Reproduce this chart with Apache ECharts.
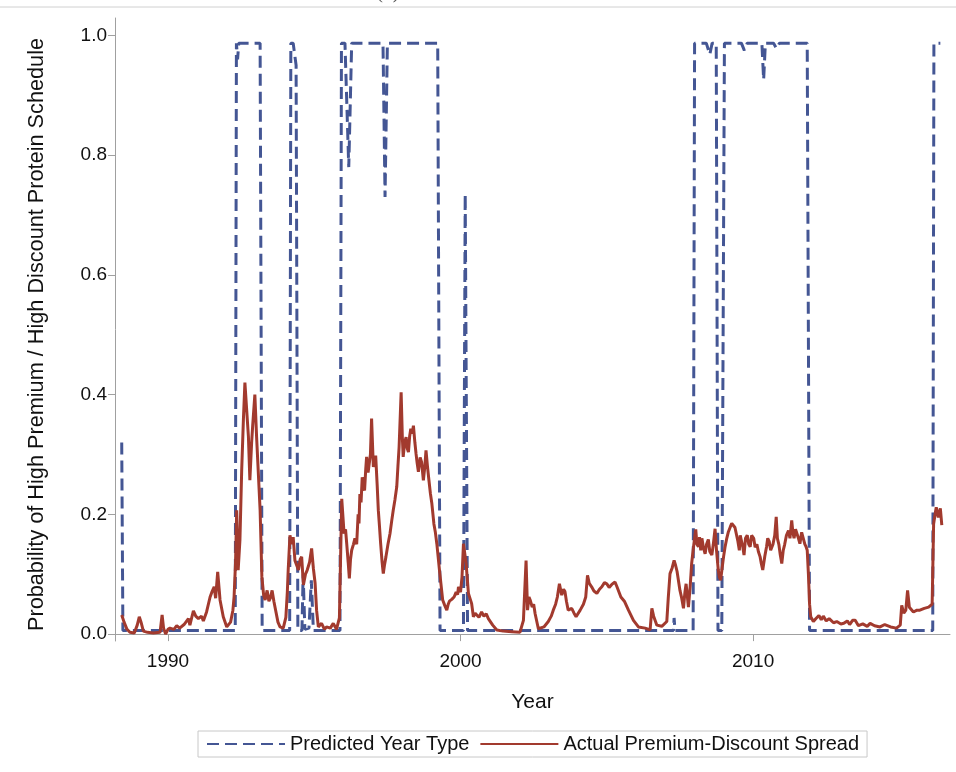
<!DOCTYPE html>
<html>
<head>
<meta charset="utf-8">
<script src="https://cdn.jsdelivr.net/npm/echarts@6/dist/echarts.min.js"></script>
<style>
html,body{margin:0;padding:0;background:#fff;}
#chart{width:956px;height:772px;}
</style>
</head>
<body>
<div id="chart"></div>
<script>
// Tick labels
var xTicks = [1990, 2000, 2010];
var yTicks = [0, 0.2, 0.4, 0.6, 0.8, 1.0];

// Actual Premium-Discount Spread
var spreadYears = [
1988.42,1988.50,1988.60,1988.70,1988.85,1988.95,1989.02,1989.08,1989.16,1989.30,1989.50,1989.73,1989.80,1989.85,1989.92,
1990.00,1990.07,1990.20,1990.30,1990.40,1990.55,1990.70,1990.75,1990.87,1990.95,1991.04,1991.15,1991.21,1991.32,1991.44,
1991.50,1991.58,1991.63,1991.70,1991.75,1991.78,1991.89,1992.01,1992.14,1992.22,1992.26,1992.31,1992.35,1992.40,1992.46,
1992.52,1992.58,1992.63,1992.69,1992.75,1992.80,1992.86,1992.90,1992.97,1993.03,1993.09,1993.15,1993.21,1993.27,1993.32,
1993.39,1993.45,1993.50,1993.56,1993.62,1993.68,1993.76,1993.83,1993.94,1994.03,1994.08,1994.11,1994.17,1994.23,1994.28,
1994.34,1994.40,1994.46,1994.52,1994.57,1994.63,1994.70,1994.76,1994.84,1994.91,1994.97,1995.03,1995.08,1995.14,1995.25,
1995.35,1995.42,1995.55,1995.65,1995.76,1995.86,1995.94,1996.02,1996.07,1996.11,1996.16,1996.20,1996.24,1996.28,1996.34,
1996.39,1996.45,1996.50,1996.53,1996.56,1996.60,1996.64,1996.68,1996.72,1996.76,1996.79,1996.84,1996.88,1996.92,1996.96,
1997.02,1997.06,1997.10,1997.15,1997.19,1997.23,1997.27,1997.32,1997.36,1997.40,1997.45,1997.52,1997.59,1997.65,1997.70,
1997.76,1997.82,1997.86,1997.90,1997.97,1998.01,1998.04,1998.09,1998.14,1998.18,1998.22,1998.26,1998.30,1998.35,1998.39,
1998.44,1998.48,1998.52,1998.56,1998.62,1998.67,1998.73,1998.78,1998.82,1998.87,1998.92,1998.97,1999.02,1999.09,1999.14,
1999.19,1999.28,1999.39,1999.46,1999.53,1999.58,1999.62,1999.70,1999.78,1999.85,1999.90,1999.93,2000.00,2000.05,2000.10,
2000.19,2000.27,2000.38,2000.44,2000.50,2000.55,2000.63,2000.72,2000.80,2000.88,2000.95,2001.10,2001.24,2001.46,2001.75,
2002.03,2002.15,2002.24,2002.29,2002.34,2002.38,2002.45,2002.50,2002.55,2002.66,2002.85,2003.00,2003.10,2003.17,2003.25,
2003.31,2003.38,2003.46,2003.52,2003.57,2003.62,2003.68,2003.80,2003.88,2003.95,2004.09,2004.20,2004.28,2004.34,2004.40,
2004.48,2004.56,2004.66,2004.75,2004.83,2004.92,2005.00,2005.08,2005.17,2005.28,2005.34,2005.40,2005.48,2005.60,2005.74,
2005.91,2006.08,2006.31,2006.48,2006.54,2006.60,2006.71,2006.88,2007.05,2007.10,2007.16,2007.23,2007.30,2007.35,2007.40,
2007.50,2007.56,2007.62,2007.67,2007.71,2007.79,2007.85,2007.90,2007.95,2008.00,2008.04,2008.08,2008.13,2008.17,2008.21,
2008.25,2008.30,2008.36,2008.41,2008.47,2008.52,2008.59,2008.64,2008.70,2008.75,2008.81,2008.85,2008.89,2008.94,2008.99,
2009.04,2009.10,2009.15,2009.22,2009.27,2009.33,2009.38,2009.43,2009.48,2009.53,2009.56,2009.60,2009.65,2009.69,2009.74,
2009.80,2009.85,2009.90,2009.95,2010.02,2010.07,2010.13,2010.18,2010.24,2010.28,2010.33,2010.40,2010.46,2010.50,2010.55,
2010.60,2010.68,2010.74,2010.79,2010.83,2010.88,2010.93,2010.98,2011.03,2011.08,2011.14,2011.21,2011.26,2011.32,2011.36,
2011.40,2011.45,2011.49,2011.55,2011.60,2011.66,2011.72,2011.77,2011.81,2011.85,2011.89,2011.93,2011.97,2012.06,2012.15,
2012.25,2012.33,2012.40,2012.50,2012.60,2012.75,2012.86,2013.00,2013.10,2013.22,2013.30,2013.40,2013.49,2013.60,2013.75,
2013.90,2014.00,2014.15,2014.34,2014.50,2014.70,2014.90,2015.03,2015.08,2015.15,2015.22,2015.28,2015.34,2015.48,2015.60,
2015.70,2015.85,2016.00,2016.12,2016.17,2016.22,2016.26,2016.33,2016.40,2016.45
];
var spreadValues = [
0.032,0.020,0.008,0.003,0.002,0.015,0.029,0.020,0.005,0.003,0.002,0.003,0.032,0.010,0.000,
0.008,0.010,0.008,0.014,0.010,0.016,0.026,0.015,0.039,0.030,0.026,0.030,0.022,0.037,0.062,
0.070,0.079,0.060,0.104,0.075,0.057,0.029,0.012,0.020,0.040,0.062,0.120,0.207,0.107,0.157,
0.273,0.360,0.420,0.418,0.330,0.257,0.320,0.351,0.400,0.329,0.330,0.207,0.096,0.065,0.057,
0.073,0.055,0.060,0.073,0.055,0.040,0.020,0.012,0.010,0.028,0.070,0.107,0.165,0.150,0.162,
0.123,0.115,0.107,0.125,0.129,0.082,0.100,0.107,0.120,0.143,0.110,0.085,0.040,0.012,0.018,
0.008,0.012,0.010,0.018,0.008,0.027,0.226,0.168,0.175,0.151,0.120,0.093,0.125,0.140,0.150,
0.160,0.150,0.200,0.185,0.234,0.220,0.262,0.245,0.240,0.275,0.296,0.270,0.268,0.300,0.360,
0.279,0.290,0.298,0.250,0.207,0.180,0.151,0.120,0.101,0.115,0.129,0.150,0.168,0.190,0.207,
0.225,0.246,0.280,0.312,0.404,0.330,0.296,0.320,0.329,0.310,0.304,0.330,0.343,0.335,0.348,
0.320,0.301,0.285,0.271,0.295,0.287,0.257,0.280,0.307,0.280,0.257,0.235,0.218,0.184,0.170,
0.151,0.107,0.057,0.048,0.040,0.050,0.055,0.058,0.062,0.070,0.066,0.079,0.070,0.095,0.151,
0.118,0.068,0.051,0.029,0.035,0.032,0.028,0.037,0.030,0.034,0.026,0.015,0.007,0.005,0.004,
0.003,0.023,0.123,0.040,0.062,0.057,0.045,0.050,0.034,0.009,0.012,0.021,0.030,0.040,0.050,
0.062,0.084,0.065,0.075,0.071,0.055,0.040,0.043,0.035,0.029,0.040,0.050,0.062,0.098,0.085,
0.079,0.072,0.068,0.075,0.079,0.086,0.084,0.078,0.083,0.087,0.080,0.078,0.062,0.055,0.040,
0.023,0.012,0.010,0.007,0.043,0.030,0.015,0.013,0.021,0.060,0.101,0.110,0.123,0.115,0.105,
0.073,0.060,0.043,0.070,0.084,0.045,0.080,0.118,0.140,0.160,0.175,0.150,0.146,0.162,0.140,
0.160,0.145,0.134,0.150,0.158,0.138,0.132,0.150,0.176,0.140,0.107,0.095,0.090,0.110,0.129,
0.145,0.160,0.170,0.179,0.185,0.187,0.178,0.176,0.155,0.140,0.165,0.168,0.145,0.132,0.160,
0.165,0.150,0.146,0.165,0.160,0.145,0.150,0.138,0.129,0.118,0.107,0.130,0.146,0.160,0.155,
0.140,0.150,0.165,0.196,0.160,0.150,0.132,0.118,0.140,0.150,0.165,0.173,0.160,0.190,0.170,
0.160,0.175,0.173,0.160,0.151,0.170,0.168,0.150,0.146,0.140,0.101,0.050,0.029,0.021,0.026,
0.031,0.024,0.030,0.022,0.026,0.019,0.021,0.017,0.018,0.022,0.016,0.023,0.023,0.014,0.017,
0.013,0.018,0.014,0.012,0.016,0.012,0.010,0.015,0.048,0.035,0.040,0.073,0.045,0.037,0.040,
0.040,0.043,0.045,0.050,0.184,0.200,0.212,0.195,0.210,0.182
];

// Predicted Year Type
var predYears = [
1988.42,1988.46,1992.30,1992.34,1992.38,1992.42,1993.15,1993.22,1994.16,1994.20,1994.28,1994.38,1994.44,1994.58,1994.62,
1994.68,1994.82,1994.90,1994.97,1995.88,1995.93,1996.05,1996.18,1996.28,1997.35,1997.42,1997.50,1999.22,1999.30,2000.10,
2000.16,2000.24,2007.28,2007.30,2007.33,2007.95,2008.00,2008.40,2008.52,2008.60,2008.74,2008.80,2008.93,2009.02,2009.60,
2009.70,2009.80,2010.30,2010.36,2010.42,2010.70,2010.80,2010.90,2011.85,2011.93,2016.14,2016.18,2016.40
];
var predValues = [
0.320,0.006,0.006,0.987,0.960,0.987,0.987,0.006,0.006,0.987,0.987,0.950,0.006,0.006,0.100,
0.008,0.010,0.090,0.006,0.006,0.987,0.987,0.780,0.987,0.987,0.730,0.987,0.987,0.006,0.006,
0.735,0.006,0.006,0.027,0.006,0.006,0.987,0.987,0.968,0.987,0.987,0.006,0.006,0.987,0.987,
0.975,0.987,0.987,0.926,0.987,0.987,0.978,0.987,0.987,0.006,0.006,0.987,0.987
];

function zip(a, b) { return a.map(function (v, i) { return [v, b[i]]; }); }

var chart = echarts.init(document.getElementById('chart'), null, {renderer: 'canvas'});
var FONT = 'Liberation Sans';
var option = {
  backgroundColor: '#fff',
  animation: false,
  grid: {left: 115, right: 6, top: 18, bottom: 131, containLabel: false},
  graphic: [
    {type: 'line', shape: {x1: 0, y1: 7, x2: 956, y2: 7}, style: {stroke: '#d0d0d0', lineWidth: 1}},
    {type: 'text', x: 487, y: 3, style: {text: '(b) Protein Schedule Model', font: '20px "Liberation Serif"', fill: '#555', textAlign: 'center', textVerticalAlign: 'bottom'}}
  ],
  legend: {
    left: 198, top: 731,
    padding: [3, 8, 3, 8],
    itemGap: 10,
    itemWidth: 78, itemHeight: 14,
    borderColor: '#c8c8c8', borderWidth: 1,
    itemStyle: {opacity: 0},
    textStyle: {fontFamily: FONT, fontSize: 20, color: '#111'},
    data: ['Predicted Year Type', 'Actual Premium-Discount Spread']
  },
  xAxis: {
    type: 'value', min: 1988.19, max: 2016.73,
    name: 'Year', nameLocation: 'middle', nameGap: 51,
    nameTextStyle: {fontFamily: FONT, fontSize: 21, color: '#111'},
    axisLine: {lineStyle: {color: '#a0a0a0', width: 1}},
    axisTick: {show: true, length: 7, customValues: xTicks, lineStyle: {color: '#a0a0a0'}},
    axisLabel: {customValues: xTicks, margin: 11, fontFamily: FONT, fontSize: 19, color: '#111', formatter: function (v) { return String(v); }},
    splitLine: {show: false}
  },
  yAxis: {
    type: 'value', min: -0.0115, max: 1.029,
    name: 'Probability of High Premium / High Discount Protein Schedule',
    nameLocation: 'middle', nameGap: 67, nameRotate: 90,
    nameTextStyle: {fontFamily: FONT, fontSize: 21.7, color: '#111', padding: [0, 10, 0, 0]},
    axisLine: {show: true, lineStyle: {color: '#a0a0a0', width: 1}},
    axisTick: {show: true, length: 7, customValues: yTicks, lineStyle: {color: '#a0a0a0'}},
    axisLabel: {customValues: yTicks, margin: 8, fontFamily: FONT, fontSize: 19, color: '#111', formatter: function (v) { return v.toFixed(1); }},
    splitLine: {show: false}
  },
  series: [
    {
      name: 'Predicted Year Type', type: 'line', symbol: 'none', z: 2,
      data: zip(predYears, predValues),
      lineStyle: {color: '#445694', width: 3, type: [12, 6]},
      itemStyle: {color: '#445694'}
    },
    {
      name: 'Actual Premium-Discount Spread', type: 'line', symbol: 'none', z: 3,
      data: zip(spreadYears, spreadValues),
      lineStyle: {color: '#A23A2E', width: 3},
      itemStyle: {color: '#A23A2E'}
    }
  ]
};
chart.setOption(option);
</script>
</body>
</html>
